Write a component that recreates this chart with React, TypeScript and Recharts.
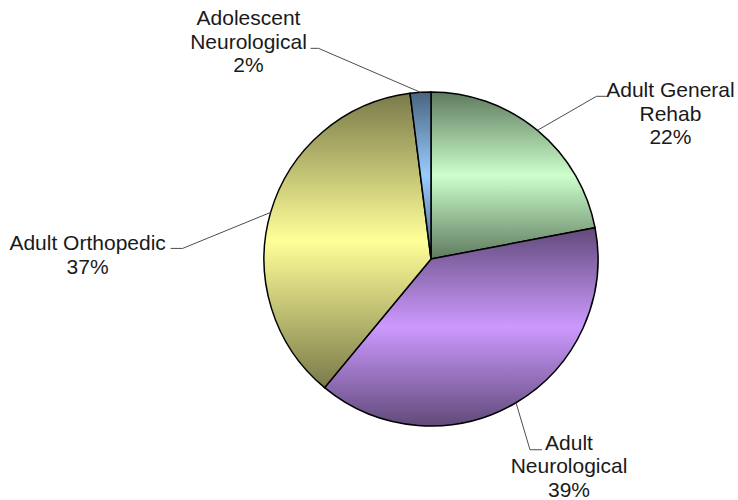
import React from 'react';
import { PieChart, Pie, Cell } from 'recharts';

// categories, shares (percent) and colours
const categories = ['Adult General Rehab', 'Adult Neurological', 'Adult Orthopedic', 'Adolescent Neurological'];
const shares = [22, 39, 37, 2];
const labelLines = [['Adult General', 'Rehab'], ['Adult', 'Neurological'], ['Adult Orthopedic'], ['Adolescent', 'Neurological']];
const lightColors = ['#CCFFCC', '#CC99FF', '#FFFF99', '#99CCFF'];
const darkColors = ['#5f7a5f', '#614a7a', '#7a7a4a', '#4a6480'];

// leader line layout: elbow offset from slice edge, tail length, text offset
const labelLayout = [
  { dx: 59, dy: -34, tail: 10, tx: 64, ty: 1 },
  { dx: 14, dy: 47, tail: 12, tx: 27, ty: 0 },
  { dx: -88, dy: 36, tail: -12, tx: -83, ty: 2 },
  { dx: -102, dy: -44, tail: -8, tx: -62, ty: -23 },
];

const data = categories.map((name, i) => ({ name, value: shares[i] }));

const RADIAN = Math.PI / 180;
const LINE_H = 23.5;

const renderLabel = (props: any) => {
  const { cx, cy, midAngle, outerRadius, percent, index } = props;
  const l = labelLayout[index];
  const ex = cx + outerRadius * Math.cos(-midAngle * RADIAN);
  const ey = cy + outerRadius * Math.sin(-midAngle * RADIAN);
  const bx = ex + l.dx;
  const by = ey + l.dy;
  const tx = bx + l.tail;
  const textX = tx + l.tx;
  const lines = [...labelLines[index], `${Math.round(percent * 100)}%`];
  return (
    <g>
      <polyline points={`${ex},${ey} ${bx},${by} ${tx},${by}`} fill="none" stroke="#4d4d4d" strokeWidth={1} />
      <text x={textX} y={by + l.ty} textAnchor="middle" fill="#1a1a1a" fontSize={21} fontFamily="'Liberation Sans', Arial, sans-serif">
        {lines.map((t, k) => (
          <tspan key={k} x={textX} y={by + l.ty + k * LINE_H}>{t}</tspan>
        ))}
      </text>
    </g>
  );
};

export default function App() {
  return (
    <div>
      <style>{'body{margin:0;background:#fff}'}</style>
      <PieChart width={738} height={500} margin={{ top: 0, right: 0, bottom: 0, left: 0 }}>
        <defs>
          {lightColors.map((c, i) => (
            <linearGradient key={i} id={`slice${i}`} x1="0" y1="0" x2="0" y2="1">
              <stop offset="0%" stopColor={darkColors[i]} />
              <stop offset="50%" stopColor={c} />
              <stop offset="100%" stopColor={darkColors[i]} />
            </linearGradient>
          ))}
        </defs>
        <Pie
          data={data}
          dataKey="value"
          nameKey="name"
          cx={431}
          cy={259}
          outerRadius={167}
          startAngle={90}
          endAngle={-270}
          stroke="#000"
          strokeWidth={1.5}
          label={renderLabel}
          labelLine={false}
          isAnimationActive={false}
        >
          {data.map((d, i) => (
            <Cell key={d.name} fill={`url(#slice${i})`} />
          ))}
        </Pie>
      </PieChart>
    </div>
  );
}
